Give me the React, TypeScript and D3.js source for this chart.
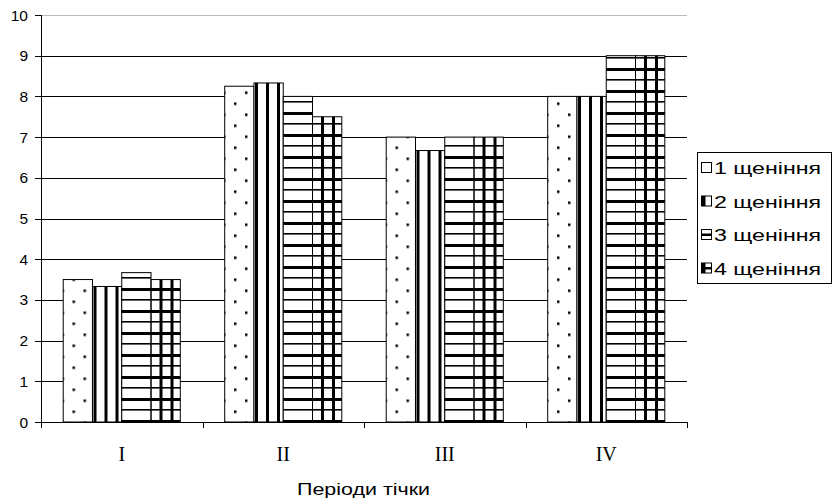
import React from "react";
import * as d3 from "d3";

const categories = ["I", "II", "III", "IV"];
const seriesNames = ["1 щеніння", "2 щеніння", "3 щеніння", "4 щеніння"];
const s1 = [3.5, 8.25, 7.0, 8.0];
const s2 = [3.33, 8.33, 6.67, 8.0];
const s3 = [3.67, 8.0, 7.0, 9.0];
const s4 = [3.5, 7.5, 7.0, 9.0];
const seriesValues = [s1, s2, s3, s4];
const yTicks = [0, 1, 2, 3, 4, 5, 6, 7, 8, 9, 10];
const xTitle = "Періоди тічки";

const W = 833;
const H = 502;
const left = 41;
const right = 687;
const top = 15;
const bottom = 422;

export default function App() {
  const y = d3.scaleLinear().domain([0, 10]).range([bottom, top]);
  const x0 = d3.scaleBand<string>().domain(categories).range([left, right]);
  const bw = x0.bandwidth();
  const gw = bw * 0.725;
  const x1 = d3
    .scaleBand<string>()
    .domain(seriesNames)
    .range([(bw - gw) / 2, (bw + gw) / 2]);
  const fills = ["url(#p1)", "url(#p2)", "url(#p3)", "url(#p4)"];
  const font = "Arial, 'Liberation Sans', sans-serif";
  const boundaries = [...categories.map((c) => x0(c) as number), right];

  const legX = 697;
  const legY = 152;
  const legW = 134;
  const legH = 131;
  const rowH = 33.5;

  return (
    <svg
      width={W}
      height={H}
      style={{ position: "absolute", left: 0, top: 0, background: "#fff" }}
    >
      <defs>
        <pattern id="p1" patternUnits="userSpaceOnUse" width={22} height={22} x={20.5} y={3.5}>
          <rect width={22} height={22} fill="#fff" />
          <rect x={0} y={0} width={2.5} height={2.5} fill="#000" />
          <rect x={11} y={11} width={2.5} height={2.5} fill="#000" />
        </pattern>
        <pattern id="p2" patternUnits="userSpaceOnUse" width={11} height={11} x={8.5}>
          <rect width={11} height={11} fill="#fff" />
          <rect x={0} y={0} width={3} height={11} fill="#000" />
        </pattern>
        <pattern id="p3" patternUnits="userSpaceOnUse" width={22} height={22} y={-9}>
          <rect width={22} height={22} fill="#fff" />
          <rect x={0} y={0} width={22} height={1.6} fill="#000" />
          <rect x={0} y={11} width={22} height={3} fill="#000" />
        </pattern>
        <pattern id="p4" patternUnits="userSpaceOnUse" width={22} height={22} y={-9} x={8.5}>
          <rect width={22} height={22} fill="#fff" />
          <rect x={0} y={0} width={22} height={1.6} fill="#000" />
          <rect x={0} y={11} width={22} height={3} fill="#000" />
          <rect x={0} y={0} width={3} height={22} fill="#000" />
          <rect x={11} y={0} width={3} height={22} fill="#000" />
        </pattern>
      </defs>

      {/* gridlines */}
      {yTicks
        .filter((t) => t > 0)
        .map((t) => (
          <line
            key={"g" + t}
            x1={left}
            x2={right}
            y1={Math.round(y(t)) + 0.5}
            y2={Math.round(y(t)) + 0.5}
            stroke={t === 10 ? "#bbb" : "#000"}
            strokeWidth={1}
          />
        ))}

      {/* bars */}
      {categories.map((c, ci) => (
        <g key={c} transform={`translate(${x0(c)},0)`}>
          {seriesNames.map((s, si) => {
            const v = seriesValues[si][ci];
            const bx = x1(s) as number;
            return (
              <rect
                key={s}
                x={bx}
                y={y(v)}
                width={x1.bandwidth()}
                height={bottom - y(v)}
                fill={fills[si]}
                stroke="#000"
                strokeWidth={1}
              />
            );
          })}
        </g>
      ))}

      {/* y axis */}
      <line x1={left + 0.5} x2={left + 0.5} y1={top} y2={bottom} stroke="#000" />
      {yTicks.map((t) => (
        <g key={"t" + t}>
          <line
            x1={35}
            x2={left}
            y1={Math.round(y(t)) + 0.5}
            y2={Math.round(y(t)) + 0.5}
            stroke="#000"
          />
          <text
            x={28}
            y={y(t)}
            dy="0.36em"
            textAnchor="end"
            fontFamily={font}
            fontSize={15.5}
            fill="#000"
          >
            {t}
          </text>
        </g>
      ))}

      {/* x axis */}
      <line x1={left} x2={right} y1={bottom + 0.5} y2={bottom + 0.5} stroke="#000" />
      {boundaries.map((b, i) => (
        <line
          key={"xb" + i}
          x1={Math.round(b) + 0.5}
          x2={Math.round(b) + 0.5}
          y1={bottom}
          y2={bottom + 6}
          stroke="#000"
        />
      ))}
      {categories.map((c) => (
        <text
          key={"xl" + c}
          x={(x0(c) as number) + bw / 2}
          y={461}
          textAnchor="middle"
          fontFamily="'Times New Roman', 'Liberation Serif', serif"
          fontSize={20}
          fill="#000"
        >
          {c}
        </text>
      ))}
      <text
        x={297}
        y={495}
        fontFamily={font}
        fontSize={17}
        textLength={133}
        lengthAdjust="spacingAndGlyphs"
        fill="#000"
      >
        {xTitle}
      </text>

      {/* legend */}
      <rect
        x={legX + 0.5}
        y={legY + 0.5}
        width={legW}
        height={legH}
        fill="#fff"
        stroke="#000"
      />
      {seriesNames.map((s, i) => {
        const cy = legY + 16 + i * rowH;
        const sx = legX + 4.5;
        const sy = cy - 5.5;
        return (
          <g key={"l" + s}>
            <rect x={sx} y={sy} width={10} height={10} fill="#fff" stroke="#000" />
            {(i === 1 || i === 3) && (
              <rect x={sx} y={sy} width={4} height={10} fill="#000" />
            )}
            {(i === 2 || i === 3) && (
              <rect x={sx} y={sy + 4} width={10} height={2.5} fill="#000" />
            )}
            <text
              x={legX + 17}
              y={cy}
              dy="0.36em"
              fontFamily={font}
              fontSize={17}
              textLength={107}
              lengthAdjust="spacingAndGlyphs"
              fill="#000"
            >
              {s}
            </text>
          </g>
        );
      })}
    </svg>
  );
}
